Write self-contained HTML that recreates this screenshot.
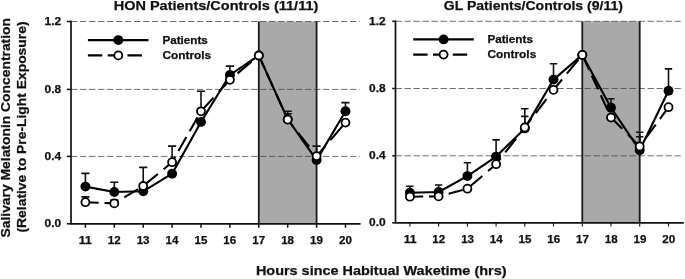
<!DOCTYPE html>
<html lang="en"><head><meta charset="utf-8"><title>Salivary Melatonin Concentration</title>
<style>html,body{margin:0;padding:0;background:#fff}svg{display:block}text{stroke:#111;stroke-width:.25px}</style></head>
<body>
<svg width="685" height="279" viewBox="0 0 685 279" font-family='"Liberation Sans", sans-serif' font-weight="bold" fill="#111">
<rect width="685" height="279" fill="#fff"/>
<rect x="258.8" y="21.5" width="57.8" height="202.3" fill="#a9a9a9"/>
<line x1="71.0" x2="359.7" y1="156.4" y2="156.4" stroke="#4a4a4a" stroke-width="0.8" stroke-dasharray="6.4 2.6"/>
<line x1="71.0" x2="359.7" y1="89.4" y2="89.4" stroke="#4a4a4a" stroke-width="0.8" stroke-dasharray="6.4 2.6"/>
<line x1="71.0" x2="359.7" y1="21.5" y2="21.5" stroke="#4a4a4a" stroke-width="0.8" stroke-dasharray="6.4 2.6"/>
<line x1="258.8" x2="258.8" y1="21.5" y2="223.8" stroke="#1a1a1a" stroke-width="1.8"/>
<line x1="316.6" x2="316.6" y1="21.5" y2="223.8" stroke="#1a1a1a" stroke-width="1.8"/>
<path d="M71.0 20.8V223.8H360.6" fill="none" stroke="#111" stroke-width="1.7"/>
<line x1="66.8" x2="71.0" y1="223.8" y2="223.8" stroke="#111" stroke-width="1.5"/>
<text x="61.2" y="227.2" font-size="11" text-anchor="end" textLength="16.6" lengthAdjust="spacingAndGlyphs">0.0</text>
<line x1="66.8" x2="71.0" y1="156.4" y2="156.4" stroke="#111" stroke-width="1.5"/>
<text x="61.2" y="159.8" font-size="11" text-anchor="end" textLength="16.6" lengthAdjust="spacingAndGlyphs">0.4</text>
<line x1="66.8" x2="71.0" y1="89.4" y2="89.4" stroke="#111" stroke-width="1.5"/>
<text x="61.2" y="92.8" font-size="11" text-anchor="end" textLength="16.6" lengthAdjust="spacingAndGlyphs">0.8</text>
<line x1="66.8" x2="71.0" y1="21.5" y2="21.5" stroke="#111" stroke-width="1.5"/>
<text x="61.2" y="24.9" font-size="11" text-anchor="end" textLength="16.6" lengthAdjust="spacingAndGlyphs">1.2</text>
<line x1="85.4" x2="85.4" y1="223.8" y2="227.7" stroke="#111" stroke-width="1.5"/>
<text x="85.3" y="244.4" font-size="10.8" text-anchor="middle" textLength="12.9" lengthAdjust="spacingAndGlyphs">11</text>
<line x1="114.3" x2="114.3" y1="223.8" y2="227.7" stroke="#111" stroke-width="1.5"/>
<text x="114.2" y="244.4" font-size="10.8" text-anchor="middle" textLength="12.9" lengthAdjust="spacingAndGlyphs">12</text>
<line x1="143.2" x2="143.2" y1="223.8" y2="227.7" stroke="#111" stroke-width="1.5"/>
<text x="143.1" y="244.4" font-size="10.8" text-anchor="middle" textLength="12.9" lengthAdjust="spacingAndGlyphs">13</text>
<line x1="172.1" x2="172.1" y1="223.8" y2="227.7" stroke="#111" stroke-width="1.5"/>
<text x="172.0" y="244.4" font-size="10.8" text-anchor="middle" textLength="12.9" lengthAdjust="spacingAndGlyphs">14</text>
<line x1="201.0" x2="201.0" y1="223.8" y2="227.7" stroke="#111" stroke-width="1.5"/>
<text x="200.9" y="244.4" font-size="10.8" text-anchor="middle" textLength="12.9" lengthAdjust="spacingAndGlyphs">15</text>
<line x1="229.9" x2="229.9" y1="223.8" y2="227.7" stroke="#111" stroke-width="1.5"/>
<text x="229.8" y="244.4" font-size="10.8" text-anchor="middle" textLength="12.9" lengthAdjust="spacingAndGlyphs">16</text>
<line x1="258.8" x2="258.8" y1="223.8" y2="227.7" stroke="#111" stroke-width="1.5"/>
<text x="258.7" y="244.4" font-size="10.8" text-anchor="middle" textLength="12.9" lengthAdjust="spacingAndGlyphs">17</text>
<line x1="287.7" x2="287.7" y1="223.8" y2="227.7" stroke="#111" stroke-width="1.5"/>
<text x="287.6" y="244.4" font-size="10.8" text-anchor="middle" textLength="12.9" lengthAdjust="spacingAndGlyphs">18</text>
<line x1="316.6" x2="316.6" y1="223.8" y2="227.7" stroke="#111" stroke-width="1.5"/>
<text x="316.5" y="244.4" font-size="10.8" text-anchor="middle" textLength="12.9" lengthAdjust="spacingAndGlyphs">19</text>
<line x1="345.5" x2="345.5" y1="223.8" y2="227.7" stroke="#111" stroke-width="1.5"/>
<text x="345.4" y="244.4" font-size="10.8" text-anchor="middle" textLength="12.9" lengthAdjust="spacingAndGlyphs">20</text>
<path d="M85.4 186.6V173.4M81.3 173.4H89.5" fill="none" stroke="#111" stroke-width="1.6"/>
<path d="M114.3 192.0V182.3M110.2 182.3H118.4" fill="none" stroke="#111" stroke-width="1.6"/>
<path d="M229.9 75.0V66.1M225.8 66.1H234.0" fill="none" stroke="#111" stroke-width="1.6"/>
<path d="M287.7 119.2V111.3M283.6 111.3H291.8" fill="none" stroke="#111" stroke-width="1.6"/>
<path d="M345.5 111.3V102.6M341.4 102.6H349.6" fill="none" stroke="#111" stroke-width="1.6"/>
<path d="M85.4 202.2V196.9M81.3 196.9H89.5" fill="none" stroke="#111" stroke-width="1.6"/>
<path d="M114.3 203.4V200.1M110.2 200.1H118.4" fill="none" stroke="#111" stroke-width="1.6"/>
<path d="M143.2 186.0V167.4M139.1 167.4H147.3" fill="none" stroke="#111" stroke-width="1.6"/>
<path d="M172.1 162.2V146.1M168.0 146.1H176.2" fill="none" stroke="#111" stroke-width="1.6"/>
<path d="M201.0 111.3V91.2M196.9 91.2H205.1" fill="none" stroke="#111" stroke-width="1.6"/>
<path d="M287.7 119.6V113.7M283.6 113.7H291.8" fill="none" stroke="#111" stroke-width="1.6"/>
<path d="M316.6 156.1V146.1M312.5 146.1H320.7" fill="none" stroke="#111" stroke-width="1.6"/>
<polyline points="85.4,186.6 114.3,192.0 143.2,191.3 172.1,173.7 201.0,121.9 229.9,75.0 258.8,55.5 287.7,119.2 316.6,160.1 345.5,111.3" fill="none" stroke="#000" stroke-width="2.1" stroke-linejoin="round"/>
<circle cx="85.4" cy="186.6" r="4.95" fill="#000"/>
<circle cx="114.3" cy="192.0" r="4.95" fill="#000"/>
<circle cx="143.2" cy="191.3" r="4.95" fill="#000"/>
<circle cx="172.1" cy="173.7" r="4.95" fill="#000"/>
<circle cx="201.0" cy="121.9" r="4.95" fill="#000"/>
<circle cx="229.9" cy="75.0" r="4.95" fill="#000"/>
<circle cx="258.8" cy="55.5" r="4.95" fill="#000"/>
<circle cx="287.7" cy="119.2" r="4.95" fill="#000"/>
<circle cx="316.6" cy="160.1" r="4.95" fill="#000"/>
<circle cx="345.5" cy="111.3" r="4.95" fill="#000"/>
<line x1="85.4" y1="202.2" x2="114.3" y2="203.4" stroke="#000" stroke-width="2.1" stroke-dasharray="13.91 5.80" stroke-dashoffset="0.60"/>
<line x1="114.3" y1="203.4" x2="143.2" y2="186.0" stroke="#000" stroke-width="2.1" stroke-dasharray="16.24 6.77" stroke-dashoffset="11.45"/>
<line x1="143.2" y1="186.0" x2="172.1" y2="162.2" stroke="#000" stroke-width="2.1" stroke-dasharray="18.01 7.52" stroke-dashoffset="24.62"/>
<line x1="172.1" y1="162.2" x2="201.0" y2="111.3" stroke="#000" stroke-width="2.1" stroke-dasharray="15.99 6.67" stroke-dashoffset="9.78"/>
<line x1="201.0" y1="111.3" x2="229.9" y2="79.8" stroke="#000" stroke-width="2.1" stroke-dasharray="18.86 7.87" stroke-dashoffset="0.29"/>
<line x1="229.9" y1="79.8" x2="258.8" y2="55.5" stroke="#000" stroke-width="2.1" stroke-dasharray="18.17 7.58" stroke-dashoffset="15.74"/>
<line x1="258.8" y1="55.5" x2="287.7" y2="119.6" stroke="#000" stroke-width="2.1" stroke-dasharray="15.25 6.36" stroke-dashoffset="1.69"/>
<line x1="287.7" y1="119.6" x2="316.6" y2="156.1" stroke="#000" stroke-width="2.1" stroke-dasharray="17.72 7.39" stroke-dashoffset="8.29"/>
<line x1="316.6" y1="156.1" x2="345.5" y2="122.6" stroke="#000" stroke-width="2.1" stroke-dasharray="18.35 7.66" stroke-dashoffset="4.83"/>
<circle cx="85.4" cy="202.2" r="4.0" fill="#fff" stroke="#000" stroke-width="1.8"/>
<circle cx="114.3" cy="203.4" r="4.0" fill="#fff" stroke="#000" stroke-width="1.8"/>
<circle cx="143.2" cy="186.0" r="4.0" fill="#fff" stroke="#000" stroke-width="1.8"/>
<circle cx="172.1" cy="162.2" r="4.0" fill="#fff" stroke="#000" stroke-width="1.8"/>
<circle cx="201.0" cy="111.3" r="4.0" fill="#fff" stroke="#000" stroke-width="1.8"/>
<circle cx="229.9" cy="79.8" r="4.0" fill="#fff" stroke="#000" stroke-width="1.8"/>
<circle cx="258.8" cy="55.5" r="4.0" fill="#fff" stroke="#000" stroke-width="1.8"/>
<circle cx="287.7" cy="119.6" r="4.0" fill="#fff" stroke="#000" stroke-width="1.8"/>
<circle cx="316.6" cy="156.1" r="4.0" fill="#fff" stroke="#000" stroke-width="1.8"/>
<circle cx="345.5" cy="122.6" r="4.0" fill="#fff" stroke="#000" stroke-width="1.8"/>
<line x1="87.9" x2="148.5" y1="40.1" y2="40.1" stroke="#000" stroke-width="2.1"/>
<circle cx="118.3" cy="40.1" r="4.95" fill="#000"/>
<line x1="87.9" x2="145.5" y1="55.4" y2="55.4" stroke="#000" stroke-width="2.1" stroke-dasharray="14.4 5.4"/>
<circle cx="118.3" cy="55.4" r="4.0" fill="#fff" stroke="#000" stroke-width="1.8"/>
<text x="162.5" y="43.9" font-size="10.6" textLength="45.3" lengthAdjust="spacingAndGlyphs">Patients</text>
<text x="162.5" y="59.2" font-size="10.6" textLength="48.7" lengthAdjust="spacingAndGlyphs">Controls</text>
<text x="113.7" y="10.3" font-size="13.4" textLength="204.6" lengthAdjust="spacingAndGlyphs">HON Patients/Controls (11/11)</text>
<rect x="582.3" y="21.3" width="57.5" height="201.5" fill="#a9a9a9"/>
<line x1="395.5" x2="682.9" y1="155.8" y2="155.8" stroke="#4a4a4a" stroke-width="0.8" stroke-dasharray="6.4 2.6"/>
<line x1="395.5" x2="682.9" y1="88.5" y2="88.5" stroke="#4a4a4a" stroke-width="0.8" stroke-dasharray="6.4 2.6"/>
<line x1="395.5" x2="682.9" y1="21.3" y2="21.3" stroke="#4a4a4a" stroke-width="0.8" stroke-dasharray="6.4 2.6"/>
<line x1="582.3" x2="582.3" y1="21.3" y2="222.8" stroke="#1a1a1a" stroke-width="1.8"/>
<line x1="639.7" x2="639.7" y1="21.3" y2="222.8" stroke="#1a1a1a" stroke-width="1.8"/>
<path d="M395.5 20.6V222.8H683.8" fill="none" stroke="#111" stroke-width="1.7"/>
<line x1="392.2" x2="395.5" y1="222.8" y2="222.8" stroke="#111" stroke-width="1.5"/>
<text x="385.7" y="226.2" font-size="11" text-anchor="end" textLength="16.6" lengthAdjust="spacingAndGlyphs">0.0</text>
<line x1="392.2" x2="395.5" y1="155.8" y2="155.8" stroke="#111" stroke-width="1.5"/>
<text x="385.7" y="159.2" font-size="11" text-anchor="end" textLength="16.6" lengthAdjust="spacingAndGlyphs">0.4</text>
<line x1="392.2" x2="395.5" y1="88.5" y2="88.5" stroke="#111" stroke-width="1.5"/>
<text x="385.7" y="91.9" font-size="11" text-anchor="end" textLength="16.6" lengthAdjust="spacingAndGlyphs">0.8</text>
<line x1="392.2" x2="395.5" y1="21.3" y2="21.3" stroke="#111" stroke-width="1.5"/>
<text x="385.7" y="24.7" font-size="11" text-anchor="end" textLength="16.6" lengthAdjust="spacingAndGlyphs">1.2</text>
<line x1="409.9" x2="409.9" y1="222.8" y2="226.4" stroke="#111" stroke-width="1.1"/>
<text x="410.1" y="242.6" font-size="10.8" text-anchor="middle" textLength="12.9" lengthAdjust="spacingAndGlyphs">11</text>
<line x1="438.6" x2="438.6" y1="222.8" y2="226.4" stroke="#111" stroke-width="1.1"/>
<text x="438.8" y="242.6" font-size="10.8" text-anchor="middle" textLength="12.9" lengthAdjust="spacingAndGlyphs">12</text>
<line x1="467.4" x2="467.4" y1="222.8" y2="226.4" stroke="#111" stroke-width="1.1"/>
<text x="467.6" y="242.6" font-size="10.8" text-anchor="middle" textLength="12.9" lengthAdjust="spacingAndGlyphs">13</text>
<line x1="496.1" x2="496.1" y1="222.8" y2="226.4" stroke="#111" stroke-width="1.1"/>
<text x="496.3" y="242.6" font-size="10.8" text-anchor="middle" textLength="12.9" lengthAdjust="spacingAndGlyphs">14</text>
<line x1="524.8" x2="524.8" y1="222.8" y2="226.4" stroke="#111" stroke-width="1.1"/>
<text x="525.0" y="242.6" font-size="10.8" text-anchor="middle" textLength="12.9" lengthAdjust="spacingAndGlyphs">15</text>
<line x1="553.5" x2="553.5" y1="222.8" y2="226.4" stroke="#111" stroke-width="1.1"/>
<text x="553.8" y="242.6" font-size="10.8" text-anchor="middle" textLength="12.9" lengthAdjust="spacingAndGlyphs">16</text>
<line x1="582.3" x2="582.3" y1="222.8" y2="226.4" stroke="#111" stroke-width="1.1"/>
<text x="582.5" y="242.6" font-size="10.8" text-anchor="middle" textLength="12.9" lengthAdjust="spacingAndGlyphs">17</text>
<line x1="611.0" x2="611.0" y1="222.8" y2="226.4" stroke="#111" stroke-width="1.1"/>
<text x="611.2" y="242.6" font-size="10.8" text-anchor="middle" textLength="12.9" lengthAdjust="spacingAndGlyphs">18</text>
<line x1="639.7" x2="639.7" y1="222.8" y2="226.4" stroke="#111" stroke-width="1.1"/>
<text x="639.9" y="242.6" font-size="10.8" text-anchor="middle" textLength="12.9" lengthAdjust="spacingAndGlyphs">19</text>
<line x1="668.5" x2="668.5" y1="222.8" y2="226.4" stroke="#111" stroke-width="1.1"/>
<text x="668.7" y="242.6" font-size="10.8" text-anchor="middle" textLength="12.9" lengthAdjust="spacingAndGlyphs">20</text>
<path d="M409.9 192.8V186.3M406.2 186.3H413.6" fill="none" stroke="#111" stroke-width="1.6"/>
<path d="M438.6 192.0V185.0M434.9 185.0H442.3" fill="none" stroke="#111" stroke-width="1.6"/>
<path d="M467.4 176.1V162.8M463.7 162.8H471.1" fill="none" stroke="#111" stroke-width="1.6"/>
<path d="M496.1 156.6V139.9M492.4 139.9H499.8" fill="none" stroke="#111" stroke-width="1.6"/>
<path d="M524.8 128.4V108.7M521.1 108.7H528.5" fill="none" stroke="#111" stroke-width="1.6"/>
<path d="M553.5 79.6V63.7M549.8 63.7H557.2" fill="none" stroke="#111" stroke-width="1.6"/>
<path d="M611.0 107.7V98.8M607.3 98.8H614.7" fill="none" stroke="#111" stroke-width="1.6"/>
<path d="M639.7 150.3V132.3M636.0 132.3H643.4" fill="none" stroke="#111" stroke-width="1.6"/>
<path d="M668.5 90.7V68.9M664.8 68.9H672.2" fill="none" stroke="#111" stroke-width="1.6"/>
<path d="M524.8 127.4V116.4M521.1 116.4H528.5" fill="none" stroke="#111" stroke-width="1.6"/>
<path d="M639.7 146.4V136.7M636.0 136.7H643.4" fill="none" stroke="#111" stroke-width="1.6"/>
<polyline points="409.9,192.8 438.6,192.0 467.4,176.1 496.1,156.6 524.8,128.4 553.5,79.6 582.3,54.9 611.0,107.7 639.7,150.3 668.5,90.7" fill="none" stroke="#000" stroke-width="2.1" stroke-linejoin="round"/>
<circle cx="409.9" cy="192.8" r="4.95" fill="#000"/>
<circle cx="438.6" cy="192.0" r="4.95" fill="#000"/>
<circle cx="467.4" cy="176.1" r="4.95" fill="#000"/>
<circle cx="496.1" cy="156.6" r="4.95" fill="#000"/>
<circle cx="524.8" cy="128.4" r="4.95" fill="#000"/>
<circle cx="553.5" cy="79.6" r="4.95" fill="#000"/>
<circle cx="582.3" cy="54.9" r="4.95" fill="#000"/>
<circle cx="611.0" cy="107.7" r="4.95" fill="#000"/>
<circle cx="639.7" cy="150.3" r="4.95" fill="#000"/>
<circle cx="668.5" cy="90.7" r="4.95" fill="#000"/>
<line x1="409.9" y1="196.7" x2="438.6" y2="196.4" stroke="#000" stroke-width="2.1" stroke-dasharray="13.90 5.80" stroke-dashoffset="0.60"/>
<line x1="438.6" y1="196.4" x2="467.4" y2="188.7" stroke="#000" stroke-width="2.1" stroke-dasharray="14.39 6.01" stroke-dashoffset="9.97"/>
<line x1="467.4" y1="188.7" x2="496.1" y2="164.2" stroke="#000" stroke-width="2.1" stroke-dasharray="18.26 7.62" stroke-dashoffset="24.52"/>
<line x1="496.1" y1="164.2" x2="524.8" y2="127.4" stroke="#000" stroke-width="2.1" stroke-dasharray="17.65 7.36" stroke-dashoffset="10.14"/>
<line x1="524.8" y1="127.4" x2="553.5" y2="89.9" stroke="#000" stroke-width="2.1" stroke-dasharray="17.50 7.30" stroke-dashoffset="6.69"/>
<line x1="553.5" y1="89.9" x2="582.3" y2="54.9" stroke="#000" stroke-width="2.1" stroke-dasharray="17.99 7.51" stroke-dashoffset="4.50"/>
<line x1="582.3" y1="54.9" x2="611.0" y2="117.5" stroke="#000" stroke-width="2.1" stroke-dasharray="15.29 6.38" stroke-dashoffset="20.64"/>
<line x1="611.0" y1="117.5" x2="639.7" y2="146.4" stroke="#000" stroke-width="2.1" stroke-dasharray="19.62 8.19" stroke-dashoffset="3.69"/>
<line x1="639.7" y1="146.4" x2="668.5" y2="107.2" stroke="#000" stroke-width="2.1" stroke-dasharray="17.23 7.19" stroke-dashoffset="14.58"/>
<circle cx="409.9" cy="196.7" r="4.0" fill="#fff" stroke="#000" stroke-width="1.8"/>
<circle cx="438.6" cy="196.4" r="4.0" fill="#fff" stroke="#000" stroke-width="1.8"/>
<circle cx="467.4" cy="188.7" r="4.0" fill="#fff" stroke="#000" stroke-width="1.8"/>
<circle cx="496.1" cy="164.2" r="4.0" fill="#fff" stroke="#000" stroke-width="1.8"/>
<circle cx="524.8" cy="127.4" r="4.0" fill="#fff" stroke="#000" stroke-width="1.8"/>
<circle cx="553.5" cy="89.9" r="4.0" fill="#fff" stroke="#000" stroke-width="1.8"/>
<circle cx="582.3" cy="54.9" r="4.0" fill="#fff" stroke="#000" stroke-width="1.8"/>
<circle cx="611.0" cy="117.5" r="4.0" fill="#fff" stroke="#000" stroke-width="1.8"/>
<circle cx="639.7" cy="146.4" r="4.0" fill="#fff" stroke="#000" stroke-width="1.8"/>
<circle cx="668.5" cy="107.2" r="4.0" fill="#fff" stroke="#000" stroke-width="1.8"/>
<line x1="413.2" x2="473.8" y1="39.4" y2="39.4" stroke="#000" stroke-width="2.1"/>
<circle cx="443.6" cy="39.4" r="4.95" fill="#000"/>
<line x1="413.2" x2="470.8" y1="54.6" y2="54.6" stroke="#000" stroke-width="2.1" stroke-dasharray="14.4 5.4"/>
<circle cx="443.6" cy="54.6" r="4.0" fill="#fff" stroke="#000" stroke-width="1.8"/>
<text x="487.4" y="43.2" font-size="10.6" textLength="45.5" lengthAdjust="spacingAndGlyphs">Patients</text>
<text x="487.4" y="58.4" font-size="10.6" textLength="48.9" lengthAdjust="spacingAndGlyphs">Controls</text>
<text x="443.8" y="10.4" font-size="13.4" textLength="179.2" lengthAdjust="spacingAndGlyphs">GL Patients/Controls (9/11)</text>
<text x="255.9" y="274.9" font-size="13.4" textLength="250.6" lengthAdjust="spacingAndGlyphs">Hours since Habitual Waketime (hrs)</text>
<text transform="translate(10.3 237.5) rotate(-90)" font-size="13.4" textLength="219.5" lengthAdjust="spacingAndGlyphs">Salivary Melatonin Concentration</text>
<text transform="translate(25.8 232.5) rotate(-90)" font-size="13.4" textLength="211" lengthAdjust="spacingAndGlyphs">(Relative to Pre-Light Exposure)</text>
</svg>
</body></html>
